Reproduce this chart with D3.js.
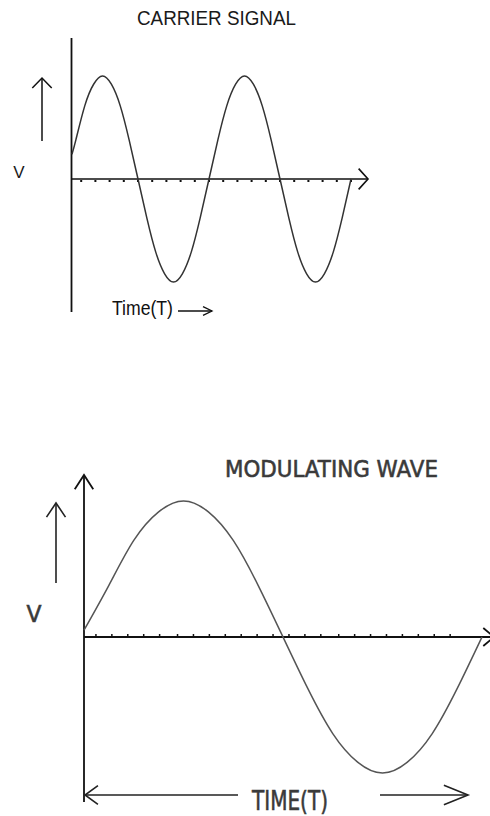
<!DOCTYPE html>
<html>
<head>
<meta charset="utf-8">
<script src="https://cdn.jsdelivr.net/npm/d3@7"></script>
<style>
  body { margin: 0; background: #fff; }
  svg { display: block; }
</style>
</head>
<body>
<svg id="chart" width="490" height="816"></svg>
<script>
// Carrier signal: time in half periods, voltage normalised to the peak
const carrierT = [0.07, 0.125, 0.25, 0.375, 0.5, 0.625, 0.75, 0.875, 1,
  1.125, 1.25, 1.375, 1.5, 1.625, 1.75, 1.875, 2,
  2.125, 2.25, 2.375, 2.5, 2.625, 2.75, 2.875, 3,
  3.125, 3.25, 3.375, 3.5, 3.625, 3.75, 3.875, 4];
const carrierV = [0.24, 0.38, 0.71, 0.92, 1, 0.92, 0.71, 0.38, 0,
  -0.38, -0.71, -0.92, -1, -0.92, -0.71, -0.38, 0,
  0.38, 0.71, 0.92, 1, 0.92, 0.71, 0.38, 0,
  -0.38, -0.71, -0.92, -1, -0.92, -0.71, -0.38, 0];
const carrierTicks = [0.2, 0.4, 0.6, 0.8, 1, 1.2, 1.4, 1.6, 1.8, 2,
  2.2, 2.4, 2.6, 2.8, 3, 3.2, 3.4, 3.6, 3.8, 4];

// Modulating wave: one full period over two half periods
const modT = [0, 0.125, 0.25, 0.375, 0.5, 0.625, 0.75, 0.875, 1,
  1.125, 1.25, 1.375, 1.5, 1.625, 1.75, 1.875, 2];
const modV = [0.05, 0.38, 0.71, 0.92, 1, 0.92, 0.71, 0.38, 0,
  -0.38, -0.71, -0.92, -1, -0.92, -0.71, -0.38, 0];
const modTicks = [0.06, 0.14, 0.22, 0.30, 0.38, 0.47, 0.55, 0.63, 0.71, 0.79,
  0.87, 0.95, 1.03, 1.11, 1.19, 1.28, 1.36, 1.44, 1.52, 1.60, 1.68, 1.76, 1.84];

const titles = ["CARRIER SIGNAL", "MODULATING WAVE"];
const timeLabels = ["Time(T)", "TIME(T)"];
const voltLabel = "V";

const svg = d3.select("#chart");
svg.append("rect").attr("width", 490).attr("height", 816).attr("fill", "#fff");

// draws a line with an open "V" head at the (x2, y2) end
function arrow(g, x1, y1, x2, y2, len, spread, color, width) {
  let a = Math.atan2(y2 - y1, x2 - x1);
  let s = spread * Math.PI / 180;
  g.append("line")
    .attr("x1", x1).attr("y1", y1).attr("x2", x2).attr("y2", y2)
    .attr("stroke", color).attr("stroke-width", width);
  g.append("path")
    .attr("d", d3.line()([
      [x2 - len * Math.cos(a - s), y2 - len * Math.sin(a - s)],
      [x2, y2],
      [x2 - len * Math.cos(a + s), y2 - len * Math.sin(a + s)]
    ]))
    .attr("fill", "none").attr("stroke", color).attr("stroke-width", width);
}

/* ---------------- Carrier signal (top) ---------------- */
let topPanel = svg.append("g");

let xTop = d3.scaleLinear().domain([0, 4]).range([67, 351]);
let yTop = d3.scaleLinear().domain([-1, 1]).range([282, 76]);
let originTop = 71.5;

// axes
topPanel.append("line")
  .attr("x1", originTop).attr("x2", originTop)
  .attr("y1", 38).attr("y2", 312)
  .attr("stroke", "#111").attr("stroke-width", 1.8);
arrow(topPanel, originTop, yTop(0), 368, yTop(0), 14, 48, "#111", 1.6);

topPanel.selectAll(".tick")
  .data(carrierTicks)
  .enter()
  .append("rect")
  .attr("x", d => xTop(d) - 1)
  .attr("y", yTop(0) + 1)
  .attr("width", 2).attr("height", 2)
  .attr("fill", "#111");

// wave
topPanel.append("path")
  .datum(carrierT.map((t, i) => [t, carrierV[i]]))
  .attr("d", d3.line().x(d => xTop(d[0])).y(d => yTop(d[1])).curve(d3.curveNatural))
  .attr("fill", "none").attr("stroke", "#333").attr("stroke-width", 1.5);

// labels
topPanel.append("text")
  .attr("x", 137).attr("y", 25)
  .attr("textLength", 159).attr("lengthAdjust", "spacingAndGlyphs")
  .attr("font-family", "Liberation Sans, Arial, sans-serif")
  .attr("font-size", 20).attr("fill", "#1a1a1a")
  .text(titles[0]);

topPanel.append("text")
  .attr("x", 19).attr("y", 178).attr("text-anchor", "middle")
  .attr("font-family", "Liberation Sans, Arial, sans-serif")
  .attr("font-size", 17).attr("fill", "#1a1a1a")
  .text(voltLabel);

arrow(topPanel, 42, 141, 42, 78, 14, 44, "#111", 1.5);

topPanel.append("text")
  .attr("x", 112).attr("y", 315)
  .attr("textLength", 61).attr("lengthAdjust", "spacingAndGlyphs")
  .attr("font-family", "Liberation Sans, Arial, sans-serif")
  .attr("font-size", 20).attr("fill", "#111")
  .text(timeLabels[0]);

arrow(topPanel, 178, 311, 212, 311, 10, 26, "#111", 1.3);

/* ---------------- Modulating wave (bottom) ---------------- */
let botPanel = svg.append("g");

let xBot = d3.scaleLinear().domain([0, 2]).range([84, 482]);
let yBot = d3.scaleLinear().domain([-1, 1]).range([773, 501]);

// axes
arrow(botPanel, xBot(0), 802, xBot(0), 475, 17, 33, "#111", 1.8);
arrow(botPanel, xBot(0), yBot(0), 494, yBot(0), 14, 40, "#111", 1.8);

botPanel.selectAll(".tick")
  .data(modTicks)
  .enter()
  .append("line")
  .attr("x1", d => xBot(d)).attr("x2", d => xBot(d))
  .attr("y1", yBot(0) - 3).attr("y2", yBot(0))
  .attr("stroke", "#111").attr("stroke-width", 1.5);

// wave
botPanel.append("path")
  .datum(modT.map((t, i) => [t, modV[i]]))
  .attr("d", d3.line().x(d => xBot(d[0])).y(d => yBot(d[1])).curve(d3.curveNatural))
  .attr("fill", "none").attr("stroke", "#555").attr("stroke-width", 1.5);

// labels (medium weight: regular glyphs with a thin outline)
function label(g, x, y, txt, size, len, anchor) {
  let t = g.append("text")
    .attr("x", x).attr("y", y)
    .attr("font-family", "DejaVu Sans, sans-serif")
    .attr("font-size", size)
    .attr("fill", "#3a3a3a").attr("stroke", "#3a3a3a").attr("stroke-width", 0.6)
    .attr("text-anchor", anchor || "start")
    .text(txt);
  if (len) t.attr("textLength", len).attr("lengthAdjust", "spacingAndGlyphs");
  return t;
}

label(botPanel, 225, 477, titles[1], 23, 213);
label(botPanel, 34, 622, voltLabel, 23, 15, "middle");

arrow(botPanel, 56, 583, 56, 503, 17, 34, "#222", 1.6);

arrow(botPanel, 238, 795, 85, 795, 16, 36, "#222", 1.6);
arrow(botPanel, 380, 795, 468, 795, 26, 22, "#222", 1.6);

label(botPanel, 252, 810, timeLabels[1], 27, 76);
</script>
</body>
</html>
